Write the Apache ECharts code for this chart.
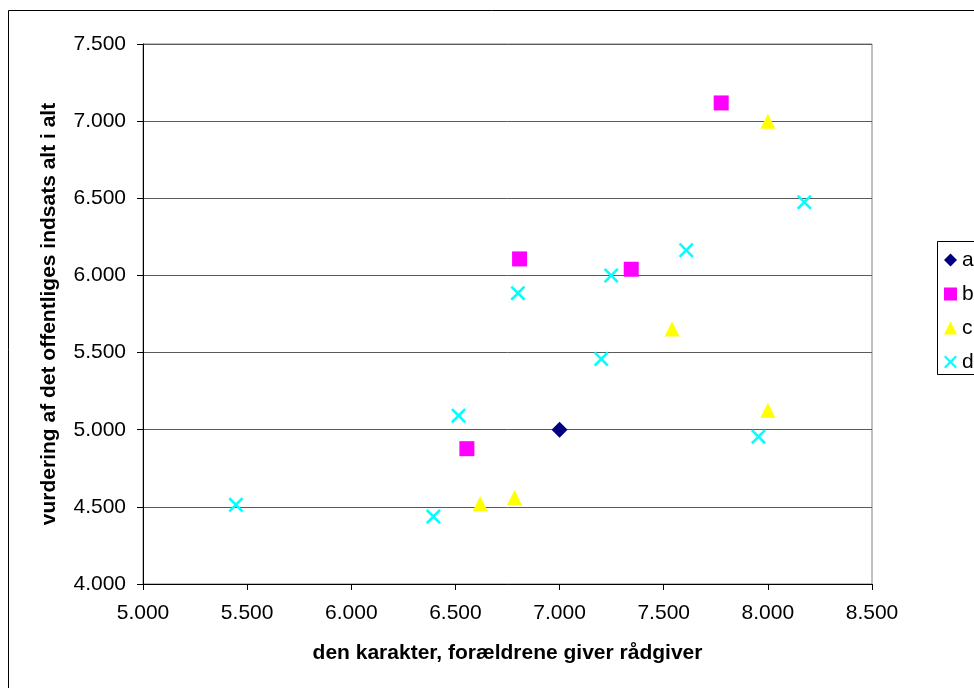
<!DOCTYPE html>
<html>
<head>
<meta charset="utf-8">
<script src="https://cdn.jsdelivr.net/npm/echarts@6/dist/echarts.min.js"></script>
<style>
html,body{margin:0;padding:0;background:#fff;}
#chart{width:974px;height:688px;}
</style>
</head>
<body>
<div id="chart"></div>
<script>
// ---- data ----
var seriesNames = ['a', 'b', 'c', 'd'];
var aX = [7.000];
var aY = [5.000];
var bX = [7.776, 6.808, 7.344, 6.555];
var bY = [7.118, 6.107, 6.040, 4.877];
var cX = [8.000, 7.540, 8.000, 6.619, 6.784];
var cY = [7.000, 5.653, 5.126, 4.521, 4.560];
var dX = [5.446, 6.394, 6.515, 6.800, 7.200, 7.248, 7.608, 7.955, 8.175];
var dY = [4.513, 4.437, 5.091, 5.885, 5.458, 6.000, 6.163, 4.955, 6.475];
var xTickLabels = ['5.000', '5.500', '6.000', '6.500', '7.000', '7.500', '8.000', '8.500'];
var yTickLabels = ['4.000', '4.500', '5.000', '5.500', '6.000', '6.500', '7.000', '7.500'];
var xTitle = 'den karakter, forældrene giver rådgiver';
var yTitle = 'vurdering af det offentliges indsats alt i alt';

function pairs(xs, ys) { return xs.map(function (x, i) { return [x, ys[i]]; }); }

var crossPath = 'path://M0,1.2 L1.2,0 L5,3.8 L8.8,0 L10,1.2 L6.2,5 L10,8.8 L8.8,10 L5,6.2 L1.2,10 L0,8.8 L3.8,5 Z';
var FONT = '"Liberation Sans", Arial, sans-serif';

var chart = echarts.init(document.getElementById('chart'), null, {renderer: 'canvas'});
var option = {
  backgroundColor: '#ffffff',
  animation: false,
  textStyle: {fontFamily: FONT},
  graphic: [{
    type: 'rect', silent: true, z: -10,
    shape: {x: 8.5, y: 10.5, width: 1100, height: 1100},
    style: {fill: 'none', stroke: '#000', lineWidth: 1}
  }, {
    type: 'rect', silent: true, z: 1,
    shape: {x: 937.5, y: 241.5, width: 100, height: 133},
    style: {fill: 'none', stroke: '#000', lineWidth: 1}
  }],
  grid: {
    left: 143, right: 102, top: 44, bottom: 104,
    show: true, borderColor: '#808080', borderWidth: 1, backgroundColor: '#fff'
  },
  legend: {
    orient: 'vertical',
    left: 937, top: 242,
    padding: [7, 4, 2, 7],
    borderWidth: 0,
    itemWidth: 13, itemHeight: 13, itemGap: 12,
    textStyle: {fontFamily: FONT, fontSize: 21, color: '#000', lineHeight: 22},
    data: seriesNames
  },
  xAxis: {
    type: 'value', min: 5, max: 8.5, interval: 0.5,
    name: xTitle, nameLocation: 'middle', nameGap: 59,
    nameTextStyle: {fontFamily: FONT, fontSize: 21, fontWeight: 'bold', color: '#000'},
    axisLine: {show: true, onZero: false, lineStyle: {color: '#000', width: 1}},
    axisTick: {show: true, inside: false, length: 6, lineStyle: {color: '#000'}},
    axisLabel: {margin: 19, fontSize: 21, color: '#000', fontFamily: FONT,
      formatter: function (v, i) { return xTickLabels[Math.round((v - 5) / 0.5)]; }},
    splitLine: {show: false}
  },
  yAxis: {
    type: 'value', min: 4, max: 7.5, interval: 0.5,
    name: yTitle, nameLocation: 'middle', nameGap: 83, nameRotate: 90,
    nameTextStyle: {fontFamily: FONT, fontSize: 21, fontWeight: 'bold', color: '#000'},
    axisLine: {show: true, onZero: false, lineStyle: {color: '#000', width: 1}},
    axisTick: {show: true, inside: false, length: 6, lineStyle: {color: '#000'}},
    axisLabel: {margin: 17, fontSize: 21, color: '#000', fontFamily: FONT,
      formatter: function (v) { return yTickLabels[Math.round((v - 4) / 0.5)]; }},
    splitLine: {show: true, lineStyle: {color: '#5a5a5a', width: 1}}
  },
  series: [
    {name: 'a', type: 'scatter', symbol: 'diamond', symbolSize: 16,
      itemStyle: {color: '#000080', opacity: 1}, data: pairs(aX, aY)},
    {name: 'b', type: 'scatter', symbol: 'rect', symbolSize: 15,
      itemStyle: {color: '#ff00ff', opacity: 1}, data: pairs(bX, bY)},
    {name: 'c', type: 'scatter', symbol: 'triangle', symbolSize: 15,
      itemStyle: {color: '#ffff00', opacity: 1}, data: pairs(cX, cY)},
    {name: 'd', type: 'scatter', symbol: crossPath, symbolSize: 15,
      itemStyle: {color: '#00ffff', opacity: 1}, data: pairs(dX, dY)}
  ]
};
chart.setOption(option);
</script>
</body>
</html>
